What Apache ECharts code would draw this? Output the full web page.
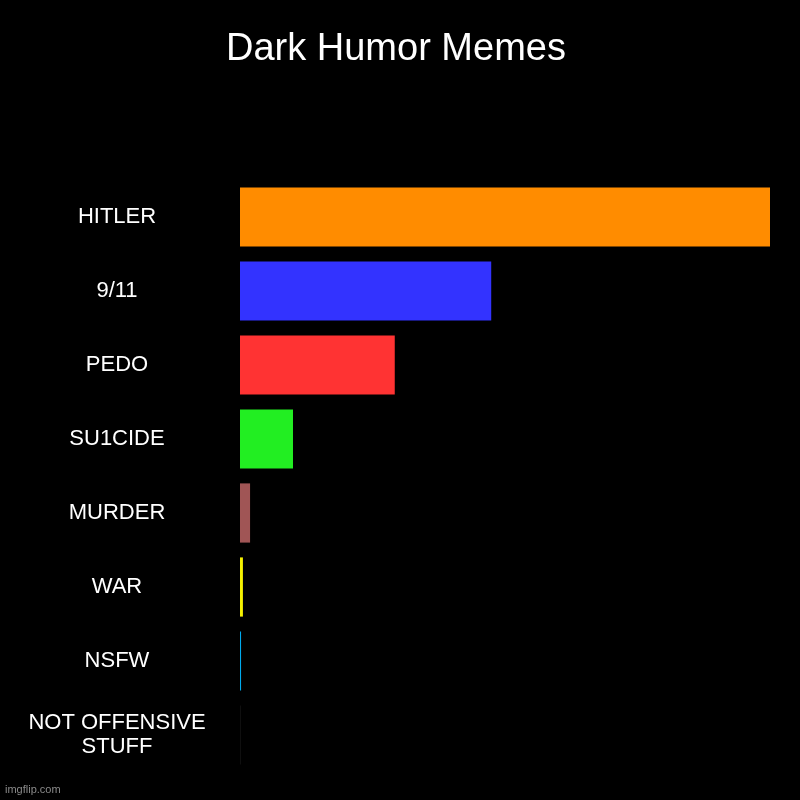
<!DOCTYPE html>
<html><head><meta charset="utf-8">
<script src="https://cdn.jsdelivr.net/npm/echarts@6/dist/echarts.min.js"></script>
<style>html,body{margin:0;padding:0;background:#000}#c{width:800px;height:800px}</style>
</head><body><div id="c"></div>
<script>
const categories = ["HITLER", "9/11", "PEDO", "SU1CIDE", "MURDER", "WAR", "NSFW", "NOT OFFENSIVE\nSTUFF"];
const values = [100, 47.4, 29.2, 10, 1.9, 0.55, 0.2, 0.15];
const colors = ["#ff8c00", "#3333ff", "#ff3333", "#22ee22", "#a05555", "#f5f000", "#00aaee", "#141414"];

const chart = echarts.init(document.getElementById('c'), null, {renderer: 'canvas'});
chart.setOption({
  backgroundColor: '#000',
  animation: false,
  title: {
    text: 'Dark Humor Memes', left: 221, top: 26,
    textStyle: {color: '#fff', fontSize: 38, fontWeight: 'normal', fontFamily: 'Liberation Sans'}
  },
  grid: {left: 240, right: 30, top: 180, bottom: 28, containLabel: false},
  xAxis: {type: 'value', min: 0, max: 100, show: false},
  yAxis: {
    type: 'category', data: categories, inverse: true,
    axisLine: {show: false}, axisTick: {show: false}, splitLine: {show: false},
    axisLabel: {color: '#fff', fontSize: 22, fontFamily: 'Liberation Sans', align: 'center', margin: 123, lineHeight: 24}
  },
  series: [{
    type: 'bar', barCategoryGap: '20%',
    data: values.map((v, i) => ({value: v, itemStyle: {color: colors[i]}}))
  }],
  graphic: [{
    type: 'text', left: 5, top: 784,
    style: {text: 'imgflip.com', fill: '#8a8a8a', fontSize: 11, fontFamily: 'Liberation Sans'}
  }]
});
</script></body></html>
